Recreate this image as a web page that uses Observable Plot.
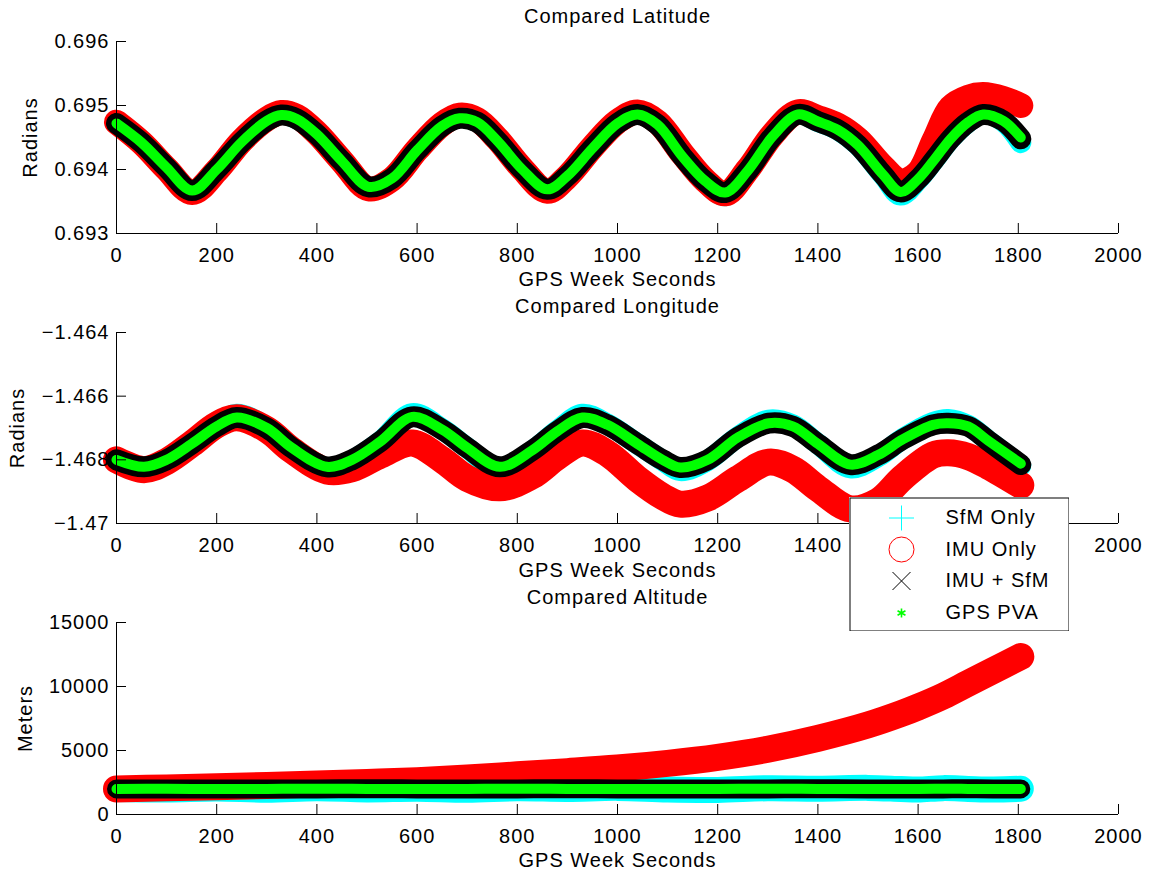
<!DOCTYPE html>
<html><head><meta charset="utf-8">
<script src="https://cdn.jsdelivr.net/npm/d3@7"></script>
<script src="https://cdn.jsdelivr.net/npm/@observablehq/plot@0.6"></script>
<style>
body{margin:0;background:#fff;}
#wrap{position:relative;width:1151px;height:876px;overflow:hidden;}
#wrap svg{display:block;}
#wrap svg text{letter-spacing:1px;}
#legend{position:absolute;left:849px;top:497px;}
</style></head><body><div id="wrap"></div>
<script>
// ---------- shared axis ----------
const xTicks = [0, 200, 400, 600, 800, 1000, 1200, 1400, 1600, 1800, 2000];
const xTickLabels = ["0", "200", "400", "600", "800", "1000", "1200", "1400", "1600", "1800", "2000"];
// in the middle panel the labels 1600 and 1800 sit under the legend box
const lonHiddenXLabels = [1600, 1800];
const xLabel = "GPS Week Seconds";

// ---------- legend ----------
const seriesNames = ["SfM Only", "IMU Only", "IMU + SfM", "GPS PVA"];
const seriesColors = ["#00ffff", "#ff0000", "#000000", "#00ff00"];

// ---------- Latitude ----------
const latTitle = "Compared Latitude";
const latYLabel = "Radians";
const latTicks = [0.693, 0.694, 0.695, 0.696];
const latTickLabels = ["0.693", "0.694", "0.695", "0.696"];
const latTime = [0,50,100,151,200,250,300,329,360,400,450,503,550,600,650,685,720,760,810,860,900,950,1000,1040,1080,1130,1175,1215,1260,1310,1360,1400,1440,1480,1530,1565,1600,1632,1665,1700,1730,1770,1805];
const latGPS = [0.69472,0.69442,0.69403,0.69367,0.69400,0.69443,0.69476,0.69485,0.69479,0.69455,0.69413,0.69373,0.69386,0.69430,0.69468,0.69480,0.69474,0.69445,0.69400,0.69369,0.69390,0.69433,0.69472,0.69486,0.69470,0.69420,0.69382,0.69364,0.69398,0.69452,0.69486,0.69475,0.69462,0.69438,0.69392,0.69365,0.69385,0.69415,0.69448,0.69474,0.69486,0.69476,0.69450];
const latFused = [0.69472,0.69442,0.69403,0.69367,0.69400,0.69443,0.69476,0.69485,0.69479,0.69455,0.69413,0.69373,0.69386,0.69430,0.69468,0.69480,0.69474,0.69445,0.69400,0.69369,0.69390,0.69433,0.69472,0.69486,0.69470,0.69420,0.69382,0.69364,0.69398,0.69452,0.69486,0.69475,0.69462,0.69438,0.69392,0.69365,0.69385,0.69415,0.69448,0.69474,0.69486,0.69476,0.69448];
const latSfM = [0.69472,0.69442,0.69402,0.69362,0.69399,0.69443,0.69476,0.69486,0.69479,0.69455,0.69413,0.69368,0.69385,0.69430,0.69468,0.69481,0.69474,0.69445,0.69400,0.69364,0.69389,0.69433,0.69472,0.69487,0.69470,0.69420,0.69381,0.69359,0.69397,0.69452,0.69487,0.69475,0.69462,0.69438,0.69391,0.69360,0.69384,0.69415,0.69448,0.69474,0.69488,0.69475,0.69442];
const latIMU = [0.69474,0.69442,0.69401,0.69364,0.69398,0.69445,0.69479,0.69489,0.69483,0.69457,0.69413,0.69370,0.69385,0.69431,0.69471,0.69485,0.69478,0.69448,0.69401,0.69366,0.69389,0.69435,0.69475,0.69490,0.69474,0.69424,0.69383,0.69362,0.69400,0.69455,0.69490,0.69481,0.69469,0.69447,0.69404,0.69382,0.69395,0.69446,0.69497,0.69513,0.69517,0.69511,0.69500];

// ---------- Longitude ----------
const lonTitle = "Compared Longitude";
const lonYLabel = "Radians";
const lonTicks = [-1.47, -1.468, -1.466, -1.464];
const lonTickLabels = ["\u22121.47", "\u22121.468", "\u22121.466", "\u22121.464"];
const lonTime = [0,55,100,150,200,240,300,350,420,470,527,590,650,700,765,830,880,930,980,1040,1090,1125,1180,1240,1302,1350,1400,1465,1520,1570,1630,1660,1700,1740,1805];
const lonGPS = [-1.46800,-1.46822,-1.46800,-1.46750,-1.46695,-1.46667,-1.46700,-1.46762,-1.46822,-1.46800,-1.46742,-1.46665,-1.46705,-1.46762,-1.46822,-1.46770,-1.46710,-1.46667,-1.46690,-1.46750,-1.46800,-1.46824,-1.46800,-1.46730,-1.46685,-1.46695,-1.46750,-1.46815,-1.46785,-1.46735,-1.46690,-1.46685,-1.46695,-1.46740,-1.46812];
const lonFused = [-1.46800,-1.46822,-1.46800,-1.46750,-1.46695,-1.46667,-1.46700,-1.46762,-1.46822,-1.46800,-1.46742,-1.46665,-1.46705,-1.46762,-1.46822,-1.46770,-1.46710,-1.46667,-1.46690,-1.46750,-1.46800,-1.46824,-1.46800,-1.46730,-1.46685,-1.46695,-1.46750,-1.46815,-1.46785,-1.46735,-1.46690,-1.46685,-1.46695,-1.46740,-1.46815];
const lonSfM = [-1.46800,-1.46832,-1.46800,-1.46750,-1.46693,-1.46657,-1.46698,-1.46762,-1.46832,-1.46802,-1.46742,-1.46655,-1.46703,-1.46762,-1.46832,-1.46772,-1.46708,-1.46657,-1.46688,-1.46750,-1.46802,-1.46834,-1.46802,-1.46728,-1.46675,-1.46690,-1.46750,-1.46825,-1.46790,-1.46733,-1.46682,-1.46673,-1.46692,-1.46740,-1.46818];
const lonIMU = [-1.46800,-1.46831,-1.46805,-1.46750,-1.46690,-1.46668,-1.46705,-1.46770,-1.46835,-1.46828,-1.46785,-1.46747,-1.46800,-1.46858,-1.46888,-1.46850,-1.46790,-1.46747,-1.46780,-1.46860,-1.46915,-1.46939,-1.46920,-1.46860,-1.46807,-1.46830,-1.46890,-1.46954,-1.46930,-1.46855,-1.46785,-1.46778,-1.46790,-1.46820,-1.46880];

// ---------- Altitude ----------
const altTitle = "Compared Altitude";
const altYLabel = "Meters";
const altTicks = [0, 5000, 10000, 15000];
const altTickLabels = ["0", "5000", "10000", "15000"];
const altTime = [0,100,200,300,400,500,600,700,800,900,1000,1100,1200,1300,1400,1500,1566,1600,1650,1700,1750,1805];
const altGPS = [2000,2010,1990,2000,2010,2000,1990,2000,2010,2000,1990,2000,2000,2010,2000,1990,2000,2000,2010,2000,1990,2000];
const altFused = [2000,2000,1990,2000,2000,2010,2000,1990,2000,2010,2000,2000,1990,2000,2010,2000,2000,1990,2000,2010,2000,2000];
const altSfM = [2000,1960,2040,1940,2060,1960,2020,1940,2050,2000,2080,1950,1920,2050,2010,2080,1990,1950,2060,2000,1950,2010];
const altIMU = [2000,2080,2170,2270,2380,2500,2640,2850,3100,3350,3630,4000,4470,5100,5950,7000,7880,8400,9250,10250,11250,12340];

const FONT = "'Liberation Sans', Arial, Helvetica, sans-serif";
const W = 1151, ML = 116, MR = 33;

function panel(cfg) {
  const plotH = cfg.height - cfg.top - cfg.bottom;
  const plotW = W - ML - MR;
  const hidden = new Set(cfg.hiddenX || []);
  const xMap = new Map(xTicks.map((d, i) => [d, hidden.has(d) ? "" : xTickLabels[i]]));
  const yMap = new Map(cfg.yTicks.map((d, i) => [d, cfg.yLabels[i]]));
  const lineMarks = cfg.series.map((vals, k) =>
    Plot.line(cfg.time.map((t, i) => ({t, v: vals[i]})), {
      x: "t", y: "v", stroke: seriesColors[k], strokeWidth: cfg.widths[k],
      curve: "catmull-rom", strokeLinecap: "round", strokeLinejoin: "round"
    }));
  return Plot.plot({
    width: W, height: cfg.height,
    marginLeft: ML, marginRight: MR, marginTop: cfg.top, marginBottom: cfg.bottom,
    style: {fontFamily: FONT, fontSize: "20px", background: "white", color: "black"},
    x: {domain: [0, 2000], nice: false},
    y: {domain: [cfg.yTicks[0], cfg.yTicks[cfg.yTicks.length - 1]], nice: false},
    marks: [
      ...lineMarks,
      Plot.ruleX([0], {stroke: "black", strokeWidth: 1}),
      Plot.ruleY([cfg.yTicks[0]], {stroke: "black", strokeWidth: 1}),
      Plot.tickX(xTicks, {x: d => d, stroke: "black", insetTop: plotH - 10}),
      Plot.tickY(cfg.yTicks, {y: d => d, stroke: "black", insetRight: plotW - 10}),
      Plot.axisX({ticks: xTicks, tickFormat: d => xMap.get(d), tickSize: 0, tickPadding: 14, label: null, fontSize: 20}),
      Plot.axisY({ticks: cfg.yTicks, tickFormat: d => yMap.get(d), tickSize: 0, tickPadding: 7, label: null, fontSize: 20}),
      Plot.text([cfg.title], {frameAnchor: "top", dy: cfg.titleDy, text: d => d, lineAnchor: "middle", fontSize: 20}),
      Plot.text([xLabel], {frameAnchor: "bottom", dy: cfg.xLabelDy, text: d => d, lineAnchor: "middle", fontSize: 20}),
      Plot.text([cfg.ylabel], {frameAnchor: "left", dx: cfg.yLabelDx, rotate: -90, text: d => d, textAnchor: "middle", lineAnchor: "middle", fontSize: 20})
    ]
  });
}

const wrap = document.getElementById("wrap");
wrap.appendChild(panel({
  time: latTime, series: [latSfM, latIMU, latFused, latGPS], widths: [21, 25, 21, 10],
  yTicks: latTicks, yLabels: latTickLabels, title: latTitle, ylabel: latYLabel,
  height: 291, top: 41, bottom: 58, titleDy: -25, xLabelDy: 46, yLabelDx: -86
}));
wrap.appendChild(panel({
  time: lonTime, series: [lonSfM, lonIMU, lonFused, lonGPS], widths: [21, 27, 21, 10],
  yTicks: lonTicks, yLabels: lonTickLabels, title: lonTitle, ylabel: lonYLabel,
  height: 291, top: 41, bottom: 59, titleDy: -26, xLabelDy: 47, yLabelDx: -99,
  hiddenX: lonHiddenXLabels
}));
wrap.appendChild(panel({
  time: altTime, series: [altSfM, altIMU, altFused, altGPS], widths: [26, 27, 19, 10],
  yTicks: altTicks, yLabels: altTickLabels, title: altTitle, ylabel: altYLabel,
  height: 294, top: 40, bottom: 62, titleDy: -25, xLabelDy: 46, yLabelDx: -91
}));

// legend (pixel-unit scales inside the 220x134 box)
const rows = [20.5, 52, 83.5, 115.5];
const mx = 52;
const legend = Plot.plot({
  width: 220, height: 134, margin: 0,
  style: {fontFamily: FONT, fontSize: "20px", background: "white", color: "black"},
  x: {domain: [0, 220], range: [0, 220], axis: null},
  y: {domain: [0, 134], range: [0, 134], axis: null},
  marks: [
    Plot.frame({stroke: "black", fill: "white", inset: 0.5}),
    // SfM: plus
    Plot.link([[-12.5, 0, 12.5, 0], [0, -12.5, 0, 12.5]], {x1: d => mx + d[0], y1: d => rows[0] + d[1], x2: d => mx + d[2], y2: d => rows[0] + d[3], stroke: seriesColors[0], strokeWidth: 1}),
    // IMU: circle
    Plot.dot([0], {x: () => mx, y: () => rows[1], r: 12.5, stroke: seriesColors[1], strokeWidth: 1, fill: "none"}),
    // IMU + SfM: times
    Plot.link([[-9, -9, 9, 9], [-9, 9, 9, -9]], {x1: d => mx + d[0], y1: d => rows[2] + d[1], x2: d => mx + d[2], y2: d => rows[2] + d[3], stroke: seriesColors[2], strokeWidth: 1}),
    // GPS: asterisk
    Plot.dot([0], {x: () => mx, y: () => rows[3], r: 4.3, symbol: "asterisk", stroke: seriesColors[3], strokeWidth: 1.6, fill: "none"}),
    Plot.text(seriesNames, {x: () => 96, y: (d, i) => rows[i], text: d => d, textAnchor: "start", lineAnchor: "middle", fontSize: 20})
  ]
});
const lg = document.createElement("div");
lg.id = "legend";
lg.appendChild(legend);
wrap.appendChild(lg);
</script>
</body></html>
